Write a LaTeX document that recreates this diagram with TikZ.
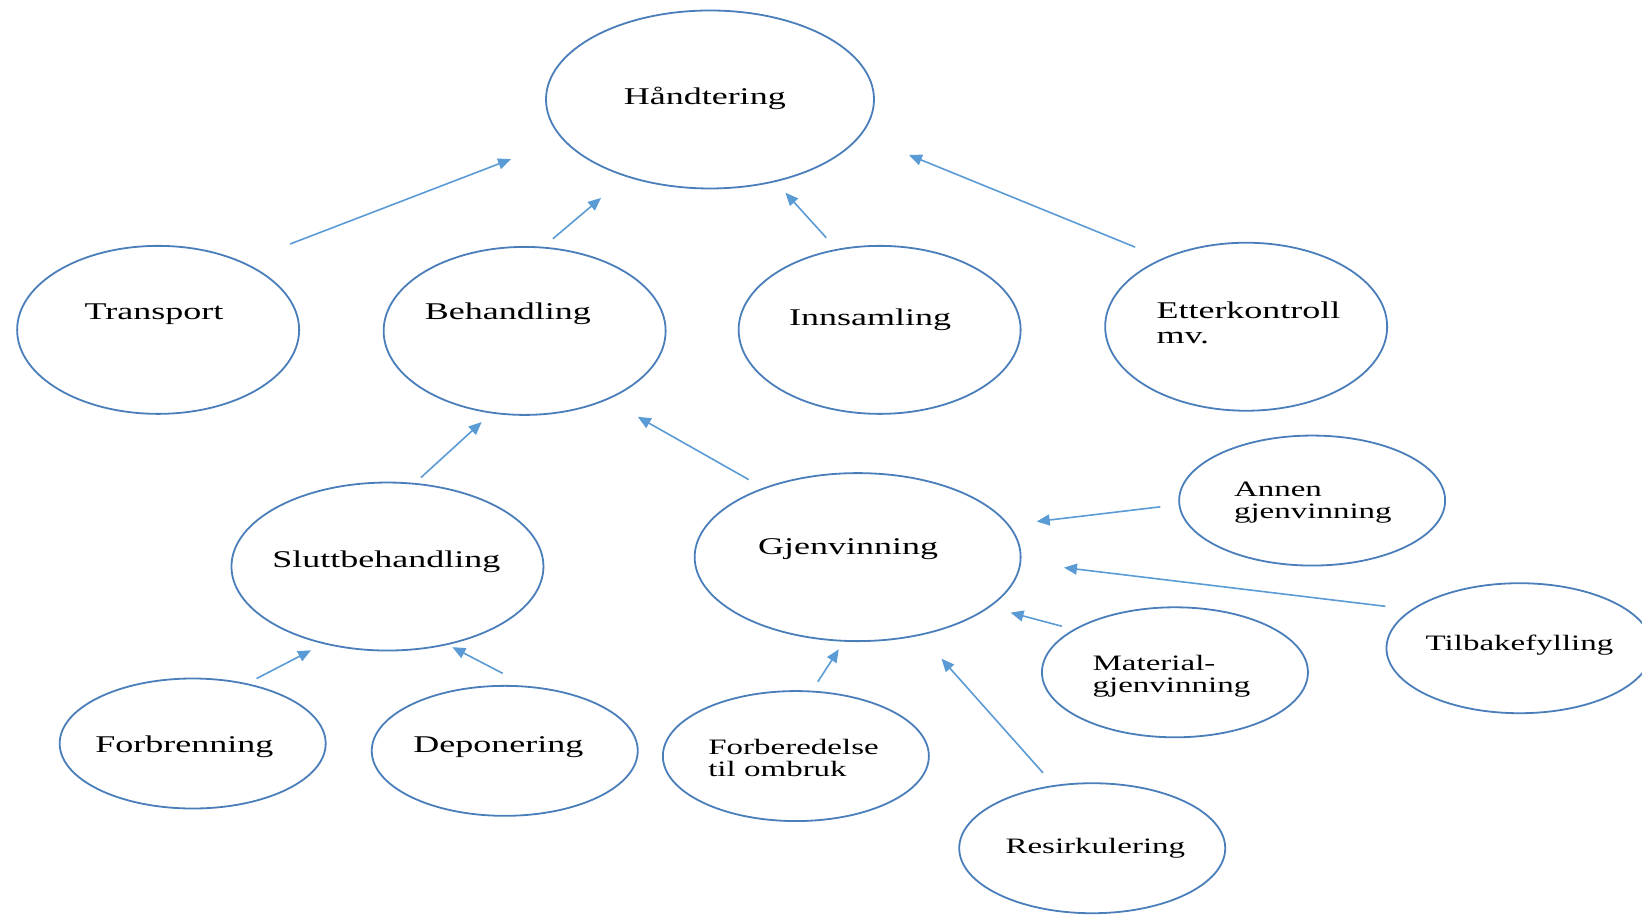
\documentclass[tikz,border=0pt]{standalone}
\usepackage{graphicx}
\usepackage{fontspec}
\setmainfont{Liberation Serif}
\usetikzlibrary{shapes.geometric,arrows.meta}
\definecolor{ovalblue}{HTML}{4A7EBB}
\definecolor{arrowblue}{HTML}{5B9BD5}
\newcommand{\wide}[1]{\scalebox{1.5}[1]{#1}}
\tikzset{
  oval/.style={ellipse, draw=ovalblue, line width=0.9pt, inner sep=0pt},
  bigoval/.style={oval, minimum width=164pt, minimum height=89pt},
  midoval/.style={oval, minimum width=141pt, minimum height=84pt},
  smalloval/.style={oval, minimum width=133pt, minimum height=65pt},
  lbl/.style={inner sep=0pt, font=\fontsize{12}{12.5}\selectfont},
  lblsmall/.style={inner sep=0pt, font=\fontsize{11}{11}\selectfont},
  lbltwo/.style={align=left, anchor=north west},
  arr/.style={draw=arrowblue, line width=0.8pt, -{Triangle[length=6.5pt,width=5.5pt]}}
}
\begin{document}
\begin{tikzpicture}[x=0.5236pt, y=-0.5236pt]
    \useasboundingbox (0,0) rectangle (1568,873);
    \node[bigoval] (hand) at (678,95) {};
    \node[midoval] (trans) at (151,315) {};
    \node[midoval] (behand) at (501,316) {};
    \node[midoval] (innsam) at (840,315) {};
    \node[midoval] (etter) at (1190,312) {};
    \node[midoval, minimum width=156pt] (slutt) at (370,541) {};
    \node[midoval, minimum width=163pt] (gjen) at (819,532) {};
    \node[smalloval] (annen) at (1253,478) {};
    \node[smalloval] (tilbake) at (1451,619) {};
    \node[smalloval] (material) at (1122,642) {};
    \node[smalloval] (forbr) at (184,710) {};
    \node[smalloval] (depon) at (482,717) {};
    \node[smalloval] (forber) at (760,722) {};
    \node[smalloval] (resirk) at (1043,810) {};

    \node[lbl] (hand-t) at (673,94) {\wide{Håndtering}};
    \node[lbl] (trans-t) at (147,300) {\wide{Transport}};
    \node[lbl] (behand-t) at (485,300) {\wide{Behandling}};
    \node[lbl] (innsam-t) at (831,305) {\wide{Innsamling}};
    \node[lbl, lbltwo] (etter-t) at (1104,288) {\wide{Etterkontroll}\\\wide{mv.}};
    \node[lbl] (slutt-t) at (369,536) {\wide{Sluttbehandling}};
    \node[lbl] (gjen-t) at (810,524) {\wide{Gjenvinning}};
    \node[lblsmall, lbltwo] (annen-t) at (1178,460) {\wide{Annen}\\\wide{gjenvinning}};
    \node[lblsmall] (tilbake-t) at (1451,616) {\wide{Tilbakefylling}};
    \node[lblsmall, lbltwo] (material-t) at (1043,625) {\wide{Material-}\\\wide{gjenvinning}};
    \node[lbl] (forbr-t) at (176,713) {\wide{Forbrenning}};
    \node[lbl] (depon-t) at (476,713) {\wide{Deponering}};
    \node[lblsmall, lbltwo] (forber-t) at (676,706) {\wide{Forberedelse}\\\wide{til ombruk}};
    \node[lblsmall] (resirk-t) at (1046,810) {\wide{Resirkulering}};

    \coordinate (trans-o) at (277,233);
    \coordinate (hand-a) at (488,152);
    \coordinate (behand-o) at (528,228);
    \coordinate (hand-b) at (574,189);
    \coordinate (innsam-o) at (789,227);
    \coordinate (hand-c) at (750,184);
    \coordinate (etter-o) at (1084,236);
    \coordinate (hand-d) at (868,148);
    \coordinate (slutt-o) at (402,456);
    \coordinate (behand-a) at (460,403);
    \coordinate (gjen-o) at (715,458);
    \coordinate (behand-b) at (609,398);
    \coordinate (annen-o) at (1108,484);
    \coordinate (gjen-a) at (990,498);
    \coordinate (tilbake-o) at (1323,579);
    \coordinate (gjen-b) at (1016,542);
    \coordinate (material-o) at (1014,598);
    \coordinate (gjen-c) at (965,585);
    \coordinate (forber-o) at (781,651);
    \coordinate (gjen-d) at (801,620);
    \coordinate (resirk-o) at (996,738);
    \coordinate (gjen-e) at (899,629);
    \coordinate (forbr-o) at (245,648);
    \coordinate (slutt-a) at (297,621);
    \coordinate (depon-o) at (480,643);
    \coordinate (slutt-b) at (432,618);

    \draw[arr] (trans-o) -- (hand-a);
    \draw[arr] (behand-o) -- (hand-b);
    \draw[arr] (innsam-o) -- (hand-c);
    \draw[arr] (etter-o) -- (hand-d);
    \draw[arr] (slutt-o) -- (behand-a);
    \draw[arr] (gjen-o) -- (behand-b);
    \draw[arr] (annen-o) -- (gjen-a);
    \draw[arr] (tilbake-o) -- (gjen-b);
    \draw[arr] (material-o) -- (gjen-c);
    \draw[arr] (forber-o) -- (gjen-d);
    \draw[arr] (resirk-o) -- (gjen-e);
    \draw[arr] (forbr-o) -- (slutt-a);
    \draw[arr] (depon-o) -- (slutt-b);
\end{tikzpicture}
\end{document}
